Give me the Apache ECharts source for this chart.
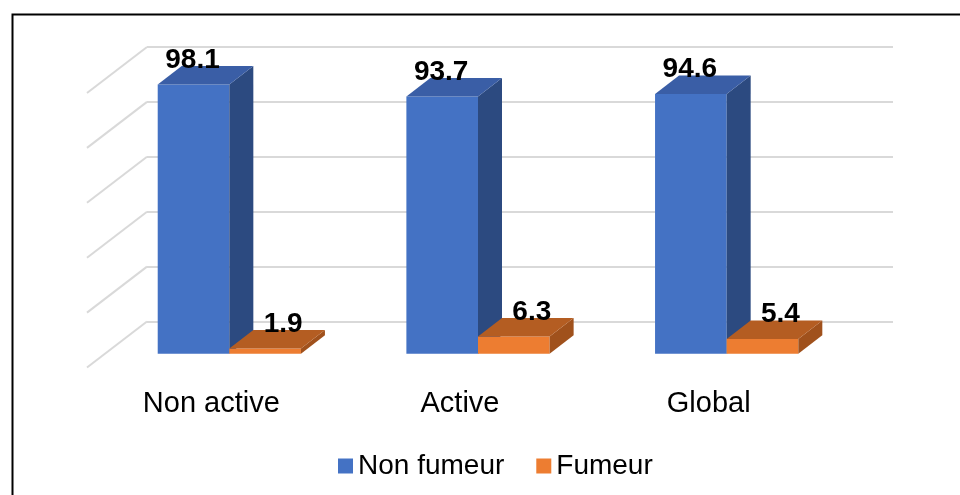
<!DOCTYPE html>
<html>
<head>
<meta charset="utf-8">
<style>
  html, body { margin: 0; padding: 0; background: #fff; }
  #chart { width: 960px; height: 495px; }
</style>
<script src="https://cdn.jsdelivr.net/npm/echarts@6/dist/echarts.min.js"></script>
</head>
<body>
<div id="chart"></div>
<script>
// Smoking status by activity group (%)
const categories = ['Non active', 'Active', 'Global'];
const nonFumeur = [98.1, 93.7, 94.6];
const fumeur = [1.9, 6.3, 5.4];
const yTicks = [0, 20, 40, 60, 80, 100];

const FONT = "'Liberation Sans', Arial, sans-serif";
// perspective: vector from the back wall to the front edge of the floor
const DEPTH = [-60, 46];
const FRONT_K = 0.7;   // bar front plane
const BAR_K = 0.4;     // bar depth
const BAR_RATIO = 0.288;
const LABEL_SIZE = 28;

const shades = {
  blue:   { front: '#4472C4', top: '#3A5EA6', side: '#2C4A80' },
  orange: { front: '#ED7D31', top: '#B45D22', side: '#A0511C' }
};

function barRenderer(shade, isLeft, labelShift) {
  return function (params, api) {
    const i = api.value(0);
    const v = api.value(1);
    const base = api.coord([i, 0]);
    const top = api.coord([i, v]);
    const band = api.size([1, 0])[0];
    const w = band * BAR_RATIO;
    const fx = DEPTH[0] * FRONT_K, fy = DEPTH[1] * FRONT_K;
    const bx = -DEPTH[0] * BAR_K, by = -DEPTH[1] * BAR_K;
    const x0 = base[0] + (isLeft ? -w : 0) + fx;
    const yB = base[1] + fy;
    const yT = top[1] + fy;
    return {
      type: 'group',
      children: [
        { type: 'rect', shape: { x: x0, y: yT, width: w, height: yB - yT },
          style: { fill: shade.front } },
        { type: 'polygon', shape: { points: [[x0 + w, yT], [x0 + w + bx, yT + by], [x0 + w + bx, yB + by], [x0 + w, yB]] },
          style: { fill: shade.side } },
        { type: 'polygon', shape: { points: [[x0, yT], [x0 + w, yT], [x0 + w + bx, yT + by], [x0 + bx, yT + by]] },
          style: { fill: shade.top } },
        { type: 'text', style: {
            text: String(v), x: x0 + w / 2 + labelShift, y: yT + by - 6,
            align: 'center', verticalAlign: 'middle',
            font: 'bold ' + LABEL_SIZE + 'px ' + FONT, fill: '#000' } }
      ]
    };
  };
}

function wallRenderer(params, api) {
  const v = api.value(0);
  const p = api.coord([0, v]);
  const x = params.coordSys.x;
  return {
    type: 'line',
    shape: { x1: x, y1: p[1], x2: x + DEPTH[0], y2: p[1] + DEPTH[1] },
    style: { stroke: '#D9D9D9', lineWidth: 2 }
  };
}

const chart = echarts.init(document.getElementById('chart'), null, { renderer: 'canvas' });
chart.setOption({
  animation: false,
  backgroundColor: '#fff',
  graphic: [{
    type: 'rect', left: 10, top: 12, shape: { width: 980, height: 500 },
    style: { fill: 'none', stroke: '#000', lineWidth: 2 }, z: 100
  }],
  legend: {
    data: ['Non fumeur', 'Fumeur'],
    left: 333, top: 447,
    icon: 'rect', itemWidth: 15, itemHeight: 15, itemGap: 32,
    textStyle: { fontFamily: FONT, fontSize: 28, color: '#000' }
  },
  grid: [
    { left: 147, right: 67, top: 47, bottom: 173.5 },
    { left: 87, right: 127, top: 93, bottom: 127.5 }
  ],
  xAxis: [
    { type: 'category', gridIndex: 0, data: categories,
      axisLine: { show: false }, axisTick: { show: false }, axisLabel: { show: false } },
    { type: 'category', gridIndex: 1, data: categories,
      axisLine: { show: false }, axisTick: { show: false },
      axisLabel: { fontFamily: FONT, fontSize: 29, color: '#000', margin: 22 } }
  ],
  yAxis: [
    { type: 'value', gridIndex: 0, min: 0, max: 100, interval: 20,
      axisLine: { show: false }, axisTick: { show: false }, axisLabel: { show: false },
      splitLine: { lineStyle: { color: '#D9D9D9', width: 2 } } },
    { type: 'value', gridIndex: 1, min: 0, max: 100, show: false, splitLine: { show: false } }
  ],
  series: [
    { type: 'custom', name: 'wall', xAxisIndex: 0, yAxisIndex: 0, silent: true,
      data: yTicks.map(t => [t]), renderItem: wallRenderer, z: 1 },
    { type: 'custom', name: 'Non fumeur', xAxisIndex: 0, yAxisIndex: 0,
      itemStyle: { color: shades.blue.front },
      data: categories.map((c, i) => [i, nonFumeur[i]]),
      renderItem: barRenderer(shades.blue, true, -1), z: 2 },
    { type: 'custom', name: 'Fumeur', xAxisIndex: 0, yAxisIndex: 0,
      itemStyle: { color: shades.orange.front },
      data: categories.map((c, i) => [i, fumeur[i]]),
      renderItem: barRenderer(shades.orange, false, 18), z: 3 }
  ]
});
</script>
</body>
</html>
